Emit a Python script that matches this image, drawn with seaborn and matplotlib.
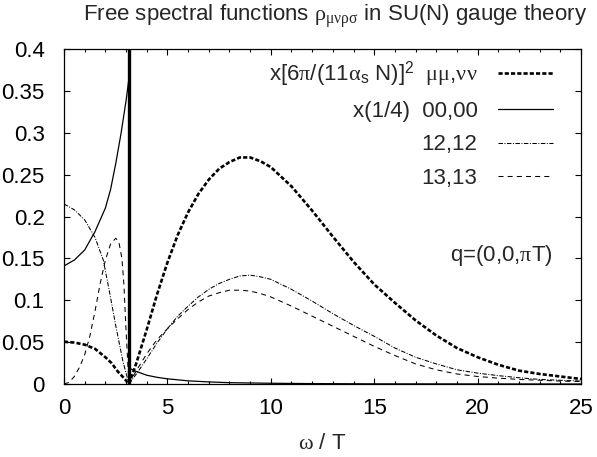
import numpy as np
import pandas as pd
import matplotlib
matplotlib.use("Agg")
import matplotlib.pyplot as plt
import seaborn as sns
from matplotlib.ticker import MultipleLocator, FuncFormatter

# light cone, omega = q = pi T
light_cone = 3.1416

# mu mu, nu nu  (times [6 pi/(11 alpha_s N)]^2)
w_mumu_lo = [0, 0.5, 1.0, 1.5, 2.0, 2.3, 2.6, 2.9, 3.1416]
rho_mumu_lo = [0.0505, 0.0495, 0.047, 0.042, 0.032, 0.025, 0.015, 0.007, 0.0]
w_mumu_hi = [3.1416, 3.5, 4.0, 4.5, 5.0, 5.5, 6.0, 6.5, 7.0, 7.5, 8.0, 8.5, 9.0, 9.5, 10,
             11, 12, 13, 14, 15, 16, 17, 18, 19, 20, 21, 22, 23, 24, 25]
rho_mumu_hi = [0, 0.025, 0.065, 0.107, 0.145, 0.178, 0.205, 0.227, 0.244, 0.257, 0.265, 0.2705,
               0.2705, 0.266, 0.259, 0.236, 0.207, 0.176, 0.146, 0.119, 0.097, 0.076, 0.058,
               0.043, 0.032, 0.023, 0.016, 0.012, 0.009, 0.006]

# 00,00  (times 1/4)
w_00_lo = [0, 0.5, 1.0, 1.5, 2.0, 2.25, 2.5, 2.75, 3.0, 3.1416]
rho_00_lo = [0.141, 0.148, 0.160, 0.182, 0.210, 0.232, 0.263, 0.298, 0.338, 0.365]
w_00_hi = [3.1416, 3.5, 4.0, 4.5, 5.0, 6.0, 7.0, 8.0, 10.0, 12.0, 15.0, 20.0, 25.0]
rho_00_hi = [0.019, 0.015, 0.0105, 0.008, 0.0062, 0.0038, 0.0025, 0.0016, 0.0009, 0.0005,
             0.0002, 0.0001, 0.0]

# 12,12
w_12_lo = [0, 0.5, 1.0, 1.5, 1.9, 2.2, 2.5, 2.85, 3.1416]
rho_12_lo = [0.215, 0.208, 0.196, 0.175, 0.148, 0.110, 0.070, 0.027, 0.0]
w_12_hi = [3.1416, 3.5, 4.0, 4.5, 5.0, 5.5, 6.0, 6.5, 7.0, 7.5, 8.0, 8.5, 9.0, 9.5, 10,
           11, 12, 13, 14, 15, 16, 17, 18, 19, 20, 21, 22, 23, 24, 25]
rho_12_hi = [0, 0.012, 0.030, 0.049, 0.066, 0.081, 0.093, 0.104, 0.113, 0.120, 0.125, 0.129,
             0.130, 0.128, 0.125, 0.113, 0.099, 0.084, 0.070, 0.057, 0.043, 0.032, 0.024,
             0.017, 0.013, 0.010, 0.0075, 0.0055, 0.0045, 0.0035]

# 13,13
w_13_lo = [0, 0.25, 0.5, 0.75, 1.0, 1.25, 1.5, 1.75, 2.0, 2.25, 2.5, 2.65, 2.8, 2.9, 3.0,
           3.1, 3.1416]
rho_13_lo = [0.0, 0.002, 0.009, 0.020, 0.035, 0.057, 0.087, 0.120, 0.148, 0.167, 0.174,
             0.170, 0.150, 0.118, 0.064, 0.018, 0.0]
w_13_hi = [3.1416, 3.5, 4.0, 4.5, 5.0, 5.5, 6.0, 6.5, 7.0, 7.5, 8.0, 8.5, 9.0, 9.5, 10,
           11, 12, 13, 14, 15, 16, 17, 18, 19, 20, 21, 22, 23, 24, 25]
rho_13_hi = [0, 0.016, 0.036, 0.053, 0.066, 0.078, 0.089, 0.098, 0.105, 0.109, 0.112, 0.112,
             0.111, 0.108, 0.104, 0.093, 0.081, 0.069, 0.057, 0.045, 0.034, 0.024, 0.017,
             0.012, 0.009, 0.007, 0.0055, 0.0045, 0.0035, 0.003]

labels = [r"x[6$\pi$/(11$\alpha_\mathsf{s}$ N)]$^\mathsf{2}$  $\mu\mu$,$\nu\nu$",
          "x(1/4)  00,00", "12,12", "13,13"]

sns.set_style("ticks")
plt.rcParams['font.family'] = ['Liberation Sans', 'DejaVu Sans']
plt.rcParams['mathtext.fontset'] = 'custom'
plt.rcParams['mathtext.rm'] = 'Liberation Serif'
plt.rcParams['mathtext.it'] = 'Liberation Serif'
plt.rcParams['mathtext.sf'] = 'Liberation Sans'
plt.rcParams['mathtext.default'] = 'rm'
plt.rcParams['lines.scale_dashes'] = False
fs = 16
plt.rcParams['font.size'] = fs

fig, ax = plt.subplots(figsize=(5.97, 4.57), dpi=100)
fig.subplots_adjust(left=0.1072, right=0.9732, top=0.8928, bottom=0.1597)

series = [
    (w_mumu_lo, rho_mumu_lo, w_mumu_hi, rho_mumu_hi, 1.9, (0, (3.0, 1.5))),
    (w_00_lo, rho_00_lo, w_00_hi, rho_00_hi, 0.9, '-'),
    (w_12_lo, rho_12_lo, w_12_hi, rho_12_hi, 0.75, (0, (3.2, 1.1, 0.7, 1.1))),
    (w_13_lo, rho_13_lo, w_13_hi, rho_13_hi, 0.75, (0, (3.6, 3.0))),
]
for (wl, rl, wh, rh, lw, ls), lab in zip(series, labels):
    sns.lineplot(x=wl, y=rl, ax=ax, color='black', lw=lw, linestyle=ls,
                 sort=False, estimator=None)
    sns.lineplot(x=wh, y=rh, ax=ax, color='black', lw=lw, linestyle=ls,
                 sort=False, estimator=None, label=lab)

ax.axvline(light_cone, color='black', lw=2.4)

ax.set_xlim(0, 25)
ax.set_ylim(0, 0.4)
ax.xaxis.set_major_locator(MultipleLocator(5))
ax.xaxis.set_minor_locator(MultipleLocator(1))
ax.yaxis.set_major_locator(MultipleLocator(0.05))
ax.yaxis.set_major_formatter(FuncFormatter(lambda v, p: f"{v:g}"))
ax.tick_params(which='both', direction='in', top=True, right=True, width=0.8,
               labelsize=fs, colors='black')
ax.tick_params(which='major', length=4.5)
ax.tick_params(axis='x', which='major', pad=10)
ax.tick_params(axis='y', which='major', pad=14)
ax.tick_params(which='minor', length=2.5)
for s in ax.spines.values():
    s.set_linewidth(0.9)
    s.set_color('black')

ax.set_xlabel(r"$\omega$ / T", fontsize=fs, labelpad=10)
ax.set_ylabel("")
ax.set_title(r"Free spectral functions $\rho_{\mu\nu\rho\sigma}$ in SU(N) gauge theory",
             fontsize=fs, pad=20, x=0.525)
ax.text(0.946, 0.385, r"q=(0,0,$\pi$T)", transform=ax.transAxes, ha='right',
        va='center', fontsize=fs)

handles, labs = ax.get_legend_handles_labels()
ax.legend(handles, labs, loc='upper right', bbox_to_anchor=(0.946, 0.969),
          frameon=False, markerfirst=False, handlelength=2.5, handletextpad=0.9,
          labelspacing=0.55, borderpad=0, borderaxespad=0, fontsize=fs)

fig.savefig("out.png", dpi=100)
